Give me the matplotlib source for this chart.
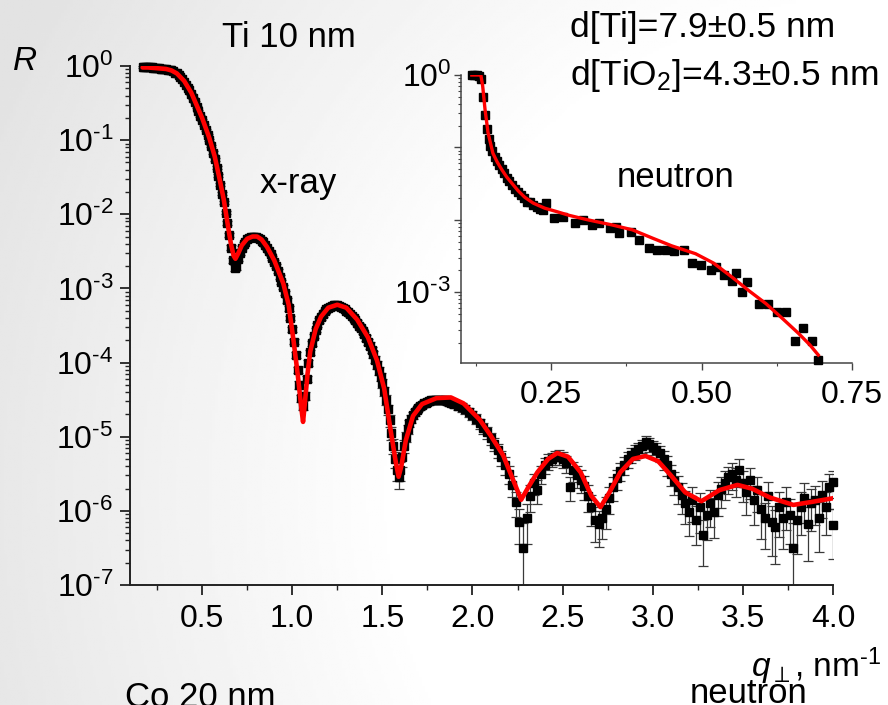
import numpy as np
import matplotlib
matplotlib.use("Agg")
import matplotlib.pyplot as plt
from matplotlib.ticker import FixedLocator, FuncFormatter, LogLocator, NullFormatter

# fonts
plt.rcParams['font.family'] = ['Liberation Sans', 'DejaVu Sans']
plt.rcParams['mathtext.fontset'] = 'custom'
plt.rcParams['mathtext.rm'] = 'Liberation Sans'
plt.rcParams['mathtext.it'] = 'Liberation Sans:italic'
plt.rcParams['mathtext.bf'] = 'Liberation Sans:bold'

W, H = 888, 705

# x-ray data (Ti 10 nm), log10(R)
q_xray = [
    0.17, 0.18, 0.19, 0.20, 0.21, 0.22, 0.23, 0.24, 0.25, 0.26,
    0.27, 0.28, 0.29, 0.30, 0.31, 0.32, 0.33, 0.34, 0.35, 0.36,
    0.37, 0.38, 0.39, 0.40, 0.41, 0.42, 0.43, 0.44, 0.45, 0.46,
    0.47, 0.48, 0.49, 0.50, 0.51, 0.52, 0.53, 0.54, 0.55, 0.56,
    0.57, 0.58, 0.59, 0.60, 0.61, 0.62, 0.63, 0.64, 0.65, 0.66,
    0.67, 0.68, 0.69, 0.70, 0.71, 0.72, 0.73, 0.74, 0.75, 0.76,
    0.77, 0.78, 0.79, 0.80, 0.81, 0.82, 0.83, 0.84, 0.85, 0.86,
    0.87, 0.88, 0.89, 0.90, 0.91, 0.92, 0.93, 0.94, 0.95, 0.96,
    0.97, 0.98, 0.99, 1.00, 1.01, 1.02, 1.03, 1.04, 1.05, 1.06,
    1.07, 1.08, 1.09, 1.10, 1.11, 1.12, 1.13, 1.14, 1.15, 1.16,
    1.17, 1.18, 1.19, 1.20, 1.21, 1.22, 1.23, 1.24, 1.25, 1.26,
    1.27, 1.28, 1.29, 1.30, 1.31, 1.32, 1.33, 1.34, 1.35, 1.36,
    1.37, 1.38, 1.39, 1.40, 1.41, 1.42, 1.43, 1.44, 1.45, 1.46,
    1.47, 1.48, 1.49, 1.50, 1.51, 1.52, 1.53, 1.54, 1.55, 1.56,
    1.57, 1.58, 1.59, 1.60, 1.61, 1.62, 1.63, 1.64, 1.65, 1.66,
    1.67, 1.68, 1.69, 1.70, 1.71, 1.72, 1.73, 1.74, 1.75, 1.76,
    1.77, 1.78, 1.79, 1.80, 1.81, 1.82, 1.83, 1.84, 1.85, 1.86,
    1.87, 1.88, 1.89,
    1.90, 1.92, 1.94, 1.96, 1.98, 2.00, 2.02, 2.04, 2.06, 2.08,
    2.10, 2.12, 2.14, 2.16, 2.18, 2.20, 2.22, 2.24, 2.26, 2.28,
    2.30, 2.32, 2.34, 2.36, 2.38, 2.40, 2.42, 2.44, 2.46, 2.48,
    2.50, 2.52, 2.54, 2.56, 2.58, 2.60, 2.62, 2.64, 2.66, 2.68,
    2.70, 2.72, 2.74, 2.76, 2.78, 2.80, 2.82, 2.84, 2.86, 2.88,
    2.90, 2.92, 2.94, 2.96, 2.98, 3.00, 3.02, 3.04, 3.06, 3.08,
    3.10, 3.12, 3.14, 3.16, 3.18, 3.20, 3.22, 3.24, 3.26, 3.28,
    3.30, 3.32, 3.34, 3.36, 3.38, 3.40, 3.42, 3.44, 3.46, 3.48,
    3.50, 3.52, 3.54, 3.56, 3.58, 3.60, 3.62, 3.64, 3.66, 3.68,
    3.70, 3.72, 3.74, 3.76, 3.78, 3.80, 3.82, 3.84, 3.86, 3.88,
    3.90, 3.92, 3.94, 3.96, 3.98, 4.00, 4.00]
logR_xray = [
    -0.01, -0.01, -0.02, -0.02, -0.02, -0.02, -0.03, -0.03, -0.03, -0.03,
    -0.04, -0.04, -0.04, -0.04, -0.05, -0.05, -0.06, -0.07, -0.09, -0.10,
    -0.12, -0.15, -0.18, -0.21, -0.25, -0.29, -0.33, -0.38, -0.43, -0.49,
    -0.55, -0.61, -0.67, -0.73, -0.79, -0.86, -0.93, -1.00, -1.08, -1.17,
    -1.26, -1.37, -1.48, -1.60, -1.72, -1.84, -1.98, -2.12, -2.28, -2.45,
    -2.62, -2.72, -2.70, -2.60, -2.52, -2.45, -2.40, -2.37, -2.34, -2.32,
    -2.31, -2.31, -2.30, -2.31, -2.32, -2.33, -2.36, -2.38, -2.42, -2.46,
    -2.50, -2.54, -2.59, -2.64, -2.70, -2.77, -2.84, -2.91, -2.98, -3.06,
    -3.16, -3.27, -3.40, -3.55, -3.72, -3.90, -4.10, -4.30, -4.48, -4.58,
    -4.45, -4.22, -4.00, -3.86, -3.74, -3.64, -3.56, -3.49, -3.43, -3.39,
    -3.35, -3.31, -3.28, -3.26, -3.25, -3.24, -3.23, -3.23, -3.23, -3.24,
    -3.25, -3.26, -3.28, -3.30, -3.32, -3.35, -3.37, -3.40, -3.43, -3.46,
    -3.50, -3.54, -3.58, -3.62, -3.67, -3.72, -3.77, -3.83, -3.89, -3.96,
    -4.03, -4.11, -4.19, -4.28, -4.38, -4.50, -4.63, -4.78, -4.95, -5.12,
    -5.30, -5.45, -5.55, -5.45, -5.28, -5.12, -5.00, -4.90, -4.82, -4.76,
    -4.71, -4.67, -4.64, -4.61, -4.59, -4.57, -4.55, -4.54, -4.53, -4.52,
    -4.51, -4.51, -4.50, -4.50, -4.50, -4.50, -4.50, -4.51, -4.51, -4.52,
    -4.53, -4.54, -4.55,
    -4.56, -4.58, -4.60, -4.63, -4.67, -4.71, -4.76, -4.82, -4.88, -4.94,
    -5.02, -5.10, -5.18, -5.28, -5.38, -5.50, -5.65, -5.88, -6.15, -6.50,
    -6.10, -5.80, -5.62, -5.72, -5.50, -5.38, -5.33, -5.30, -5.28, -5.27,
    -5.30, -5.36, -5.68, -5.45, -5.52, -5.58, -5.66, -5.80, -5.95, -6.12,
    -6.18, -6.10, -5.98, -5.82, -5.68, -5.56, -5.46, -5.38, -5.30, -5.24,
    -5.20, -5.16, -5.12, -5.07, -5.10, -5.14, -5.18, -5.22, -5.30, -5.38,
    -5.50, -5.60, -5.68, -5.78, -5.90, -6.02, -5.85, -6.12, -5.95, -6.33,
    -6.05, -5.90, -6.02, -5.78, -5.70, -5.62, -5.55, -5.50, -5.58, -5.45,
    -5.62, -5.75, -5.58, -5.85, -5.72, -5.98, -6.10, -5.80, -6.15, -6.22,
    -5.95, -6.10, -5.88, -6.05, -6.50, -6.12, -5.95, -5.82, -6.18, -5.90,
    -5.85, -6.10, -5.78, -5.95, -5.68, -6.19, -5.61]
# relative error (sigma / R)
err_xray = [
    0.03, 0.03, 0.03, 0.03, 0.03, 0.03, 0.03, 0.03, 0.03, 0.03,
    0.03, 0.03, 0.03, 0.03, 0.03, 0.03, 0.03, 0.03, 0.03, 0.03,
    0.03, 0.03, 0.03, 0.03, 0.03, 0.03, 0.03, 0.03, 0.03, 0.03,
    0.03, 0.03, 0.03, 0.03, 0.03, 0.03, 0.04, 0.04, 0.04, 0.04,
    0.04, 0.04, 0.04, 0.04, 0.05, 0.05, 0.05, 0.06, 0.06, 0.07,
    0.08, 0.10, 0.10, 0.08, 0.06, 0.05, 0.05, 0.05, 0.05, 0.05,
    0.05, 0.05, 0.05, 0.05, 0.05, 0.05, 0.05, 0.05, 0.05, 0.05,
    0.05, 0.05, 0.05, 0.06, 0.06, 0.06, 0.06, 0.06, 0.06, 0.07,
    0.07, 0.07, 0.07, 0.08, 0.08, 0.09, 0.10, 0.11, 0.12, 0.14,
    0.12, 0.10, 0.09, 0.08, 0.08, 0.07, 0.07, 0.07, 0.07, 0.07,
    0.07, 0.07, 0.07, 0.07, 0.07, 0.07, 0.07, 0.07, 0.07, 0.07,
    0.07, 0.07, 0.07, 0.07, 0.07, 0.07, 0.07, 0.08, 0.08, 0.08,
    0.08, 0.08, 0.09, 0.09, 0.09, 0.10, 0.10, 0.10, 0.10, 0.11,
    0.11, 0.12, 0.12, 0.13, 0.14, 0.15, 0.16, 0.18, 0.20, 0.22,
    0.25, 0.28, 0.30, 0.28, 0.25, 0.20, 0.16, 0.14, 0.12, 0.12,
    0.10, 0.10, 0.10, 0.10, 0.10, 0.10, 0.10, 0.10, 0.10, 0.10,
    0.10, 0.10, 0.10, 0.10, 0.10, 0.10, 0.10, 0.10, 0.10, 0.10,
    0.11, 0.11, 0.11,
    0.12, 0.12, 0.13, 0.13, 0.14, 0.15, 0.15, 0.16, 0.17, 0.18,
    0.19, 0.20, 0.22, 0.24, 0.26, 0.28, 0.32, 0.38, 0.50, 1.20,
    0.55, 0.40, 0.32, 0.35, 0.28, 0.25, 0.24, 0.22, 0.22, 0.22,
    0.24, 0.26, 0.35, 0.30, 0.32, 0.34, 0.36, 0.40, 0.45, 0.50,
    0.50, 0.48, 0.45, 0.40, 0.35, 0.30, 0.28, 0.26, 0.24, 0.22,
    0.22, 0.20, 0.20, 0.20, 0.22, 0.22, 0.24, 0.25, 0.28, 0.30,
    0.32, 0.35, 0.40, 0.45, 0.48, 0.52, 0.50, 0.55, 0.55, 0.62,
    0.55, 0.52, 0.55, 0.48, 0.45, 0.42, 0.40, 0.40, 0.42, 0.40,
    0.45, 0.50, 0.45, 0.55, 0.50, 0.60, 0.62, 0.55, 0.65, 0.68,
    0.60, 0.62, 0.58, 0.60, 1.20, 0.65, 0.58, 0.55, 0.68, 0.58,
    0.55, 0.65, 0.52, 0.58, 0.50, 0.65, 0.40]

# x-ray fit curve
q_fit = [0.17, 0.20, 0.25, 0.30, 0.33, 0.36, 0.40, 0.44, 0.47, 0.50,
         0.54, 0.57, 0.60, 0.62, 0.645, 0.66, 0.675, 0.685, 0.70, 0.72,
         0.75, 0.78, 0.805, 0.83, 0.86, 0.90, 0.95, 0.98, 1.007, 1.03,
         1.05, 1.06, 1.07, 1.085, 1.10, 1.13, 1.16, 1.20, 1.25, 1.30,
         1.36, 1.42, 1.47, 1.51, 1.545, 1.575, 1.59, 1.605, 1.63, 1.67,
         1.72, 1.80, 1.88, 1.95, 2.04, 2.10, 2.17, 2.22, 2.27, 2.31,
         2.36, 2.42, 2.47, 2.53, 2.60, 2.66, 2.71, 2.76, 2.82, 2.89,
         2.96, 3.03, 3.10, 3.18, 3.27, 3.37, 3.47, 3.55, 3.65, 3.78,
         3.88, 4.00]
logR_fit = [-0.02, -0.02, -0.03, -0.04, -0.06, -0.10, -0.20, -0.36, -0.53, -0.70,
            -0.97, -1.22, -1.56, -1.80, -2.18, -2.40, -2.56, -2.60, -2.53, -2.42,
            -2.33, -2.30, -2.30, -2.34, -2.44, -2.62, -2.93, -3.22, -3.70, -4.15,
            -4.60, -4.80, -4.55, -4.15, -3.85, -3.55, -3.38, -3.26, -3.22, -3.26,
            -3.42, -3.66, -3.97, -4.35, -4.90, -5.35, -5.54, -5.40, -5.05, -4.72,
            -4.56, -4.48, -4.47, -4.55, -4.77, -4.98, -5.25, -5.55, -5.85, -5.68,
            -5.48, -5.30, -5.22, -5.27, -5.48, -5.80, -5.95, -5.75, -5.48, -5.30,
            -5.26, -5.33, -5.52, -5.75, -5.87, -5.72, -5.65, -5.70, -5.82, -5.92,
            -5.88, -5.83]

# neutron data (inset)
q_neu = [0.118, 0.122, 0.126, 0.130, 0.134, 0.137, 0.140, 0.143, 0.146, 0.149,
         0.152, 0.156, 0.160, 0.164, 0.168, 0.172, 0.176, 0.180, 0.185, 0.190,
         0.195, 0.200, 0.205, 0.210, 0.215, 0.220, 0.226, 0.232, 0.237, 0.242,
         0.254, 0.269, 0.289, 0.302, 0.317, 0.330, 0.347, 0.358, 0.363, 0.383,
         0.396, 0.413, 0.426, 0.441, 0.454, 0.471, 0.484, 0.499, 0.516, 0.524,
         0.537, 0.550, 0.557, 0.567, 0.575, 0.595, 0.611, 0.625, 0.640, 0.656,
         0.669, 0.683, 0.694]
logR_neu = [0.00, 0.00, 0.00, -0.02, -0.05, -0.30, -0.55, -0.75, -0.88, -0.98,
            -1.05, -1.13, -1.19, -1.25, -1.30, -1.36, -1.42, -1.46, -1.52, -1.58,
            -1.62, -1.66, -1.70, -1.75, -1.76, -1.80, -1.82, -1.85, -1.86, -1.77,
            -1.98, -1.96, -2.05, -2.01, -2.07, -2.05, -2.12, -2.10, -2.19, -2.17,
            -2.28, -2.39, -2.42, -2.42, -2.43, -2.42, -2.60, -2.63, -2.70, -2.66,
            -2.77, -2.84, -2.74, -3.00, -2.86, -3.16, -3.16, -3.28, -3.28, -3.67,
            -3.50, -3.67, -3.94]

q_neu_fit = [0.118, 0.125, 0.133, 0.136, 0.140, 0.145, 0.153, 0.160, 0.168, 0.176,
             0.184, 0.195, 0.206, 0.220, 0.239, 0.26, 0.28, 0.31, 0.35, 0.385,
             0.42, 0.45, 0.49, 0.52, 0.55, 0.58, 0.607, 0.635, 0.661, 0.68,
             0.694]
logR_neu_fit = [0.00, 0.00, 0.00, -0.15, -0.48, -0.80, -1.08, -1.20, -1.31, -1.41,
                -1.49, -1.60, -1.69, -1.77, -1.84, -1.89, -1.94, -2.00, -2.07, -2.14,
                -2.26, -2.36, -2.47, -2.60, -2.79, -2.99, -3.16, -3.37, -3.57, -3.73,
                -3.87]

main_xticks = [0.5, 1.0, 1.5, 2.0, 2.5, 3.0, 3.5, 4.0]
inset_xticks = [0.25, 0.50, 0.75]


def px(x, y):
    return x / W, 1 - y / H


def pow_label(e):
    # short hyphen like the original slide instead of a long minus
    s = str(e).replace('-', '\u2010')
    return r"$\mathdefault{10^{%s}}$" % s


fig = plt.figure(figsize=(W / 100, H / 100), dpi=100)

# slide background: light grey at the left fading to white
bg = fig.add_axes([0, 0, 1, 1], zorder=-10)
gx, gy = np.meshgrid(np.linspace(0, 1, 300), np.linspace(0, 1, 240))
r = np.hypot(1 - gx, (gy - 0.3) * 0.8)
shade = 1 - 0.11 * np.clip((r - 0.55) / 0.55, 0, 1)
bg.imshow(shade, cmap='gray', vmin=0, vmax=1, aspect='auto',
          extent=[0, 1, 0, 1], origin='lower')
bg.axis('off')

# main x-ray panel
ax = fig.add_axes([130 / W, 1 - 585 / H, (833 - 130) / W, (585 - 66) / H])
ax.patch.set_alpha(0)

q = np.array(q_xray)
R = 10 ** np.array(logR_xray)
sig = R * np.array(err_xray)
lo = R - np.maximum(R - sig, 1e-7)
ax.errorbar(q, R, yerr=[lo, sig], fmt='none', ecolor='#3a3a3a', elinewidth=0.9,
            capsize=3.6, capthick=0.9, zorder=2)
ax.plot(q, R, 's', color='black', markersize=5.8, clip_on=False, zorder=3)
ax.plot(q_fit, 10 ** np.array(logR_fit), color='red', lw=3.3, zorder=4,
        solid_capstyle='round')

ax.set_yscale('log')
ax.set_xlim(0.1, 4.0)
ax.set_ylim(1e-7, 1)
ax.xaxis.set_major_locator(FixedLocator(main_xticks))
ax.xaxis.set_minor_locator(FixedLocator([0.25, 0.75, 1.25, 1.75, 2.25, 2.75, 3.25, 3.75]))
ax.xaxis.set_major_formatter(FuncFormatter(lambda v, p: f"{v:.1f}"))
ax.yaxis.set_major_locator(LogLocator(base=10, numticks=20))
ax.yaxis.set_minor_locator(LogLocator(base=10, subs=np.arange(2, 10), numticks=20))
ax.yaxis.set_minor_formatter(NullFormatter())
ax.yaxis.set_major_formatter(FuncFormatter(lambda v, p: pow_label(round(np.log10(v)))))
for s in ['top', 'right']:
    ax.spines[s].set_visible(False)
for s in ['left', 'bottom']:
    ax.spines[s].set_linewidth(1.4)
    ax.spines[s].set_color('#222222')
ax.tick_params(which='major', direction='out', length=7, width=1.3,
               labelsize=23, color='#222222', pad=5)
ax.tick_params(which='minor', direction='out', length=3.5, width=1.0, color='#222222')
ax.tick_params(axis='x', which='major', pad=7)

# neutron inset
ins = fig.add_axes([461 / W, 1 - 363 / H, (852 - 461) / W, (363 - 75) / H])
ins.patch.set_alpha(0)
ins.plot(q_neu, 10 ** np.array(logR_neu), 's', color='black', markersize=6.3,
         clip_on=False, zorder=3)
ins.plot(q_neu_fit, 10 ** np.array(logR_neu_fit), color='red', lw=2.4, zorder=4)
ins.set_yscale('log')
ins.set_xlim(0.1, 0.75)
ins.set_ylim(10 ** -3.98, 1)
ins.xaxis.set_major_locator(FixedLocator(inset_xticks))
ins.xaxis.set_minor_locator(FixedLocator([0.125, 0.375, 0.625]))
ins.xaxis.set_major_formatter(FuncFormatter(lambda v, p: f"{v:.2f}"))
ins.yaxis.set_major_locator(FixedLocator([1, 1e-1, 1e-2, 1e-3]))
ins.yaxis.set_minor_locator(LogLocator(base=10, subs=np.arange(2, 10), numticks=20))
ins.yaxis.set_minor_formatter(NullFormatter())
ins.yaxis.set_major_formatter(FuncFormatter(
    lambda v, p: pow_label(round(np.log10(v))) if round(np.log10(v)) in (0, -3) else ""))
for s in ['top', 'right']:
    ins.spines[s].set_visible(False)
for s in ['left', 'bottom']:
    ins.spines[s].set_linewidth(1.1)
    ins.spines[s].set_color('#444444')
ins.tick_params(which='major', direction='out', length=5, width=1.0,
                labelsize=23, color='#444444', pad=2)
ins.tick_params(which='minor', direction='out', length=2.5, width=0.8, color='#444444')
ins.tick_params(axis='x', which='major', pad=7)

# annotations
fig.text(*px(25, 61), "R", fontsize=24, style='italic', ha='center', va='center')
fig.text(*px(222, 47), "Ti 10 nm", fontsize=25, va='baseline')
fig.text(*px(260, 193), "x-ray", fontsize=25, va='baseline')
fig.text(*px(570, 37), "d[Ti]=7.9±0.5 nm", fontsize=25.5, va='baseline')
fig.text(*px(570, 85), r"d[TiO$_\mathdefault{2}$]=4.3±0.5 nm", fontsize=25.5, va='baseline')
fig.text(*px(617, 187), "neutron", fontsize=25, va='baseline')
fig.text(*px(881, 677), "$q_{\\perp}$, nm$^{\\mathdefault{\u20101}}$", fontsize=24,
         ha='right', va='baseline')
fig.text(*px(690, 703), "neutron", fontsize=25, va='baseline')
fig.text(*px(125, 707), "Co 20 nm", fontsize=25, va='baseline')

fig.savefig("out.png", dpi=100)
